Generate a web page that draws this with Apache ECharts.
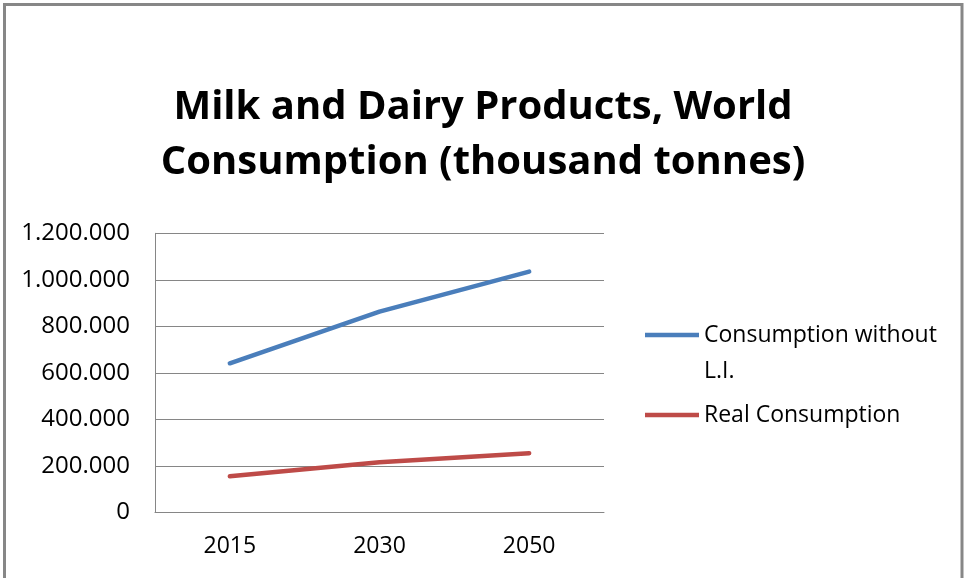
<!DOCTYPE html>
<html>
<head>
<meta charset="utf-8">
<title>Milk and Dairy Products, World Consumption</title>
<script src="https://cdn.jsdelivr.net/npm/echarts@6/dist/echarts.min.js"></script>
<style>
  html, body { margin: 0; padding: 0; background: #ffffff; }
  #chart { width: 966px; height: 578px; }
</style>
</head>
<body>
<div id="chart"></div>
<script>
// Projection years on the category axis
const years = ['2015', '2030', '2050'];

// World consumption of milk and dairy products, thousand tonnes
const consumptionWithoutLI = [641000, 863000, 1035000];
const realConsumption = [155000, 215000, 254000];

// Series names shown in the legend
const seriesNames = ['Consumption without L.I.', 'Real Consumption'];

// Value axis range
const yMin = 0;
const yMax = 1200000;
const yStep = 200000;

const FONT = '"Open Sans", "Liberation Sans", sans-serif';
const BLUE = '#4a7ebb';
const RED = '#be4b48';

// 1200000 -> "1.200.000"
function dotThousands(v) {
  return String(Math.round(v)).replace(/\B(?=(\d{3})+(?!\d))/g, '.');
}

const chart = echarts.init(document.getElementById('chart'), null, { renderer: 'canvas' });

chart.setOption({
  backgroundColor: '#ffffff',
  animation: false,
  graphic: [{
    type: 'rect',
    shape: { x: 4.5, y: 4.5, width: 957.5, height: 700 },
    style: { fill: 'none', stroke: '#878787', lineWidth: 3 },
    silent: true
  }],
  title: {
    text: 'Milk and Dairy Products, World\nConsumption (thousand tonnes)',
    left: 'center',
    top: 80,
    padding: 0,
    textStyle: {
      fontFamily: FONT,
      fontWeight: 'bold',
      fontSize: 40,
      lineHeight: 55,
      color: '#000000'
    }
  },
  grid: {
    left: 155,
    right: 362,
    top: 233.3,
    bottom: 65.7,
    containLabel: false
  },
  legend: {
    orient: 'vertical',
    left: 645,
    top: 281,
    padding: 0,
    icon: 'rect',
    itemWidth: 54,
    itemHeight: 4.5,
    itemGap: 8,
    textStyle: {
      fontFamily: FONT,
      fontSize: 23,
      lineHeight: 36,
      color: '#000000'
    },
    data: [seriesNames[0], seriesNames[1]],
    // the long name wraps onto a second line; the leading blank line keeps
    // the swatch level with the first line of text
    formatter: function (name) {
      return name === seriesNames[0] ? ' \nConsumption without\nL.I.' : name;
    }
  },
  xAxis: {
    type: 'category',
    data: years,
    boundaryGap: true,
    axisLine: { show: true, lineStyle: { color: '#868686', width: 1 } },
    axisTick: { show: false },
    axisLabel: {
      margin: 23,
      fontFamily: FONT,
      fontSize: 23,
      color: '#000000'
    },
    splitLine: { show: false }
  },
  yAxis: {
    type: 'value',
    min: yMin,
    max: yMax,
    interval: yStep,
    axisLine: { show: true, lineStyle: { color: '#868686', width: 1 } },
    axisTick: { show: false },
    axisLabel: {
      margin: 25,
      fontFamily: FONT,
      fontSize: 24,
      color: '#000000',
      formatter: dotThousands
    },
    splitLine: { show: true, lineStyle: { color: '#868686', width: 1 } }
  },
  series: [
    {
      name: seriesNames[0],
      type: 'line',
      data: consumptionWithoutLI,
      symbol: 'none',
      lineStyle: { color: BLUE, width: 4.5, cap: 'round', join: 'round' },
      itemStyle: { color: BLUE }
    },
    {
      name: seriesNames[1],
      type: 'line',
      data: realConsumption,
      symbol: 'none',
      lineStyle: { color: RED, width: 4.5, cap: 'round', join: 'round' },
      itemStyle: { color: RED }
    }
  ]
});
</script>
</body>
</html>
